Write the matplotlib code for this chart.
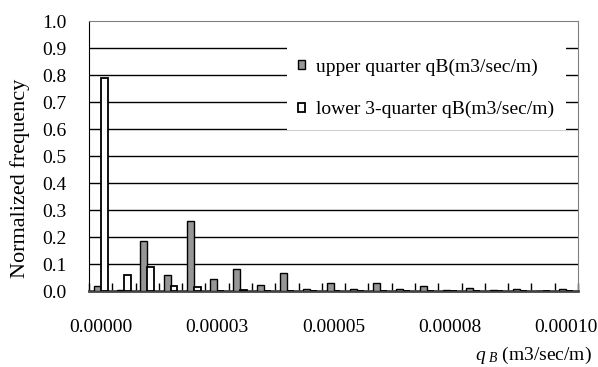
import numpy as np
import matplotlib
matplotlib.use("Agg")
import matplotlib.pyplot as plt

plt.rcParams['font.family'] = 'Liberation Serif'
plt.rcParams['mathtext.fontset'] = 'custom'
plt.rcParams['mathtext.rm'] = 'Liberation Serif'
plt.rcParams['mathtext.it'] = 'Liberation Serif:italic'

# bin values of qB (m3/sec/m)
bins = [i * 0.000005 for i in range(21)]
upper = [0.02, 0.003, 0.186, 0.06, 0.26, 0.044, 0.083, 0.024, 0.068, 0.008,
         0.03, 0.008, 0.03, 0.008, 0.02, 0.005, 0.012, 0.005, 0.008, 0.0, 0.008]
lower = [0.79, 0.06, 0.09, 0.02, 0.015, 0.0, 0.005, 0.0, 0.0, 0.0,
         0.0, 0.0, 0.0, 0.0, 0.0, 0.0, 0.0, 0.0, 0.0, 0.0, 0.0]
yticks = [i / 10 for i in range(11)]
label_every = 5

fig = plt.figure(figsize=(5.98, 3.67), dpi=100)
ax = fig.add_axes([89 / 598, 1 - 291.3 / 367, 489 / 598, 270 / 367])

x = np.arange(len(bins))
w = 0.3
ax.bar(x - w / 2, upper, w, color='#969696', edgecolor='black', linewidth=1,
       label='upper quarter qB(m3/sec/m)', zorder=3)
ax.bar(x + w / 2, lower, w, color='white', edgecolor='black', linewidth=1.3,
       label='lower 3-quarter qB(m3/sec/m)', zorder=3)

ax.set_xlim(-0.5, len(bins) - 0.5)
ax.set_ylim(0, 1.0)
ax.set_yticks(yticks)
ax.set_yticklabels(['%.1f' % v for v in yticks], fontsize=14)
for v in yticks[1:-1]:
    ax.axhline(v, color='black', linewidth=1, zorder=1)

ax.set_xticks(x[::label_every])
ax.set_xticklabels(['%.5f' % bins[i] for i in x[::label_every]], fontsize=14)
ax.set_xticks(np.arange(len(bins) + 1) - 0.5, minor=True)
ax.tick_params(axis='x', which='major', length=0, pad=20)
ax.tick_params(axis='x', which='minor', direction='in', length=6, width=1)
ax.tick_params(axis='y', length=0, pad=16)

for s in ['top', 'right']:
    ax.spines[s].set_color('#808080')
ax.spines['left'].set_color('black')
ax.spines['bottom'].set_color('#444444')
ax.spines['bottom'].set_linewidth(2)

leg = ax.legend(loc='center', bbox_to_anchor=(0.421, 0.59, 0.538, 0.322),
                fontsize=14, frameon=True, fancybox=False, edgecolor='none',
                facecolor='white', framealpha=1, borderpad=0.6,
                labelspacing=1.3, handlelength=0.32, handleheight=0.32,
                handletextpad=0.6)
leg.set_zorder(5)

fig.text(20 / 598, 1 - 178 / 367, 'Normalized frequency', rotation=90,
         ha='center', va='center', fontsize=16)
fig.text(592 / 598, 1 - 355 / 367, r'$q_{\ B}$ (m3/sec/m)', ha='right',
         va='center', fontsize=14)

fig.savefig('out.png', dpi=100)
